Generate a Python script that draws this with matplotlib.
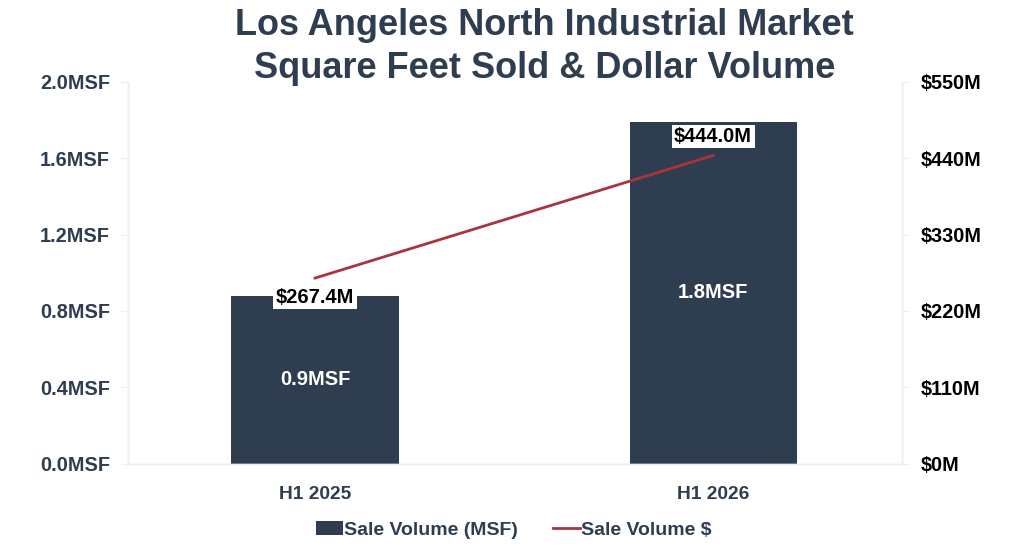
import matplotlib.pyplot as plt
from matplotlib.ticker import FuncFormatter

plt.rcParams['font.family'] = ['Liberation Sans', 'DejaVu Sans']
plt.rcParams['font.weight'] = 'bold'

# data
periods = ['H1 2025', 'H1 2026']
sqft_msf = [0.88, 1.79]
sqft_labels = ['0.9MSF', '1.8MSF']
dollars_m = [267.4, 444.0]

navy = '#2e3d50'
red = '#a8343c'

fig = plt.figure(figsize=(10.24, 5.5), dpi=100)
ax = fig.add_axes([0.125, 0.157, 0.756, 0.694])
ax2 = ax.twinx()

x = list(range(len(periods)))
bars = ax.bar(x, sqft_msf, width=0.42, color=navy, label='Sale Volume (MSF)', zorder=2)
for xi, v, lab in zip(x, sqft_msf, sqft_labels):
    ax.text(xi, v / 2, lab, ha='center', va='center', color='white', fontsize=14.5, fontweight='bold')

line, = ax2.plot(x, dollars_m, color=red, linewidth=2, label='Sale Volume $', zorder=3)
offsets = [-19, 19]
for xi, v, off in zip(x, dollars_m, offsets):
    ax2.annotate(f'${v:.1f}M', (xi, v), xytext=(0, off), textcoords='offset pixels',
                 ha='center', va='center', fontsize=14.5, fontweight='bold', color='black',
                 bbox=dict(boxstyle='square,pad=0.12', fc='white', ec='none'))

ax.set_xlim(-0.47, 1.475)
ax.set_ylim(0, 2.0)
ax.set_yticks([0, 0.4, 0.8, 1.2, 1.6, 2.0])
ax.yaxis.set_major_formatter(FuncFormatter(lambda v, p: f'{v:.1f}MSF'))
ax2.set_ylim(0, 550)
ax2.set_yticks([0, 110, 220, 330, 440, 550])
ax2.yaxis.set_major_formatter(FuncFormatter(lambda v, p: f'${v:.0f}M'))

ax.set_xticks(x)
ax.set_xticklabels(periods)

for a in (ax, ax2):
    for s in a.spines.values():
        s.set_color('#eeeeee')
        s.set_linewidth(1)
    a.spines['top'].set_visible(False)
    a.tick_params(axis='y', colors='#eeeeee', labelcolor=navy, labelsize=14.3, length=5, pad=8)
ax2.tick_params(axis='y', labelcolor='black')
ax.tick_params(axis='x', length=0, labelcolor=navy, labelsize=13.8, pad=16)
for lab in ax.get_yticklabels() + ax2.get_yticklabels() + ax.get_xticklabels():
    lab.set_fontweight('bold')

fig.suptitle('Los Angeles North Industrial Market\nSquare Feet Sold & Dollar Volume',
             x=0.532, y=0.985, fontsize=26, fontweight='bold', color=navy, linespacing=1.27)

fig.legend(handles=[bars, line], loc='lower center', bbox_to_anchor=(0.502, -0.012), ncol=2,
           frameon=False, fontsize=14, handlelength=1.4, handletextpad=0.05, columnspacing=1.8,
           labelcolor=navy)

fig.savefig('out.png', dpi=100)
